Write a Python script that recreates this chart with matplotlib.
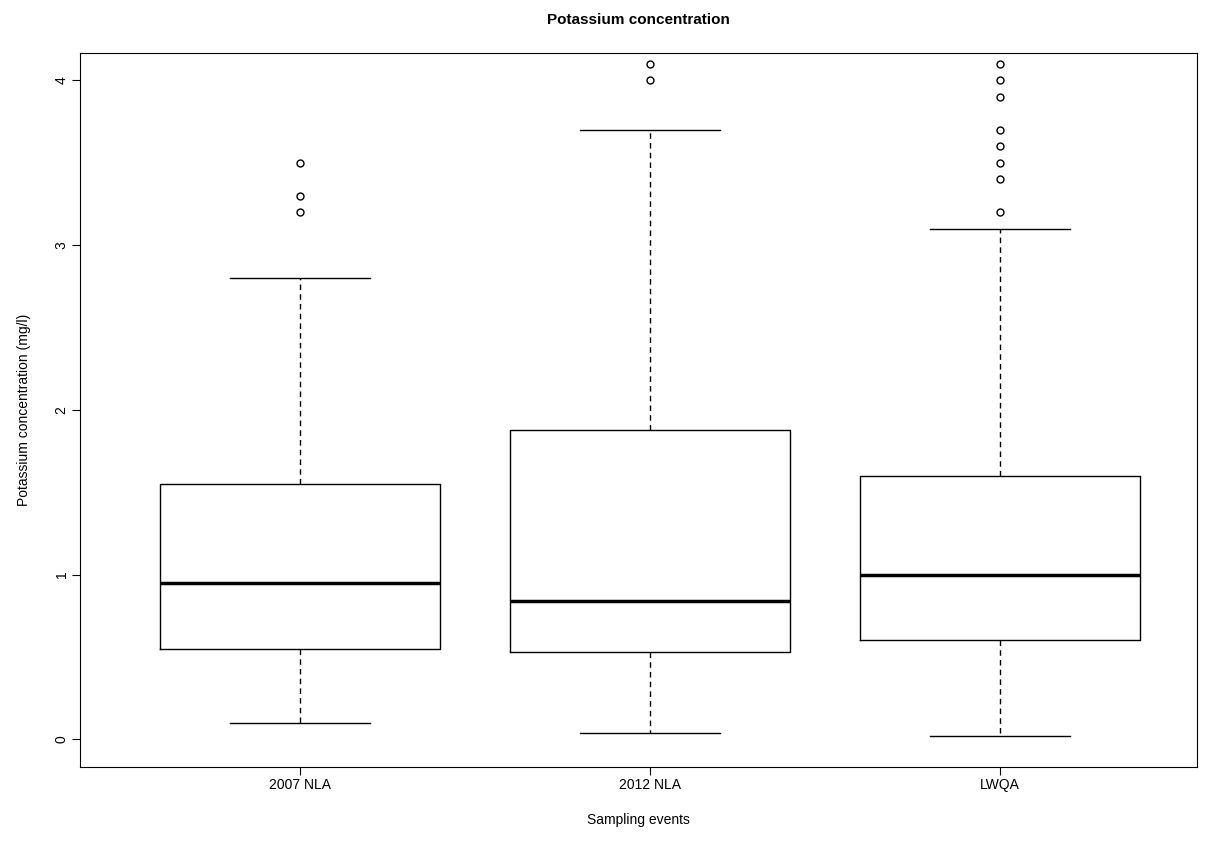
import matplotlib
matplotlib.use("Agg")
import matplotlib.pyplot as plt

plt.rcParams['font.family'] = ['Liberation Sans', 'DejaVu Sans']

groups = ['2007 NLA', '2012 NLA', 'LWQA']
q1 = [0.55, 0.53, 0.60]
med = [0.95, 0.84, 1.00]
q3 = [1.55, 1.88, 1.60]
wlo = [0.10, 0.04, 0.02]
whi = [2.80, 3.70, 3.10]
fliers = [[3.2, 3.3, 3.5],
          [4.0, 4.1],
          [3.2, 3.4, 3.5, 3.6, 3.7, 3.9, 4.0, 4.1]]

stats = [dict(label=g, q1=a, med=m, q3=b, whislo=lo, whishi=hi, fliers=f)
         for g, a, m, b, lo, hi, f in zip(groups, q1, med, q3, wlo, whi, fliers)]

fig = plt.figure(figsize=(12.07, 8.46), dpi=100)
ax = fig.add_axes([0.066, 0.093, 0.926, 0.844])
ax.bxp(stats, positions=[1, 2, 3], widths=0.8, patch_artist=False,
       boxprops=dict(color='black', linewidth=1),
       medianprops=dict(color='black', linewidth=2.5),
       whiskerprops=dict(color='black', linewidth=1, linestyle=(0, (4, 3))),
       capprops=dict(color='black', linewidth=1),
       capwidths=0.4,
       flierprops=dict(marker='o', markerfacecolor='none', markeredgecolor='black',
                       markersize=5, linestyle='none'))
ax.set_xlim(0.371, 3.563)
ax.set_ylim(-0.17, 4.164)
ax.set_yticks([0, 1, 2, 3, 4])
ax.set_yticklabels(['0', '1', '2', '3', '4'], rotation=90, va='center')
ax.tick_params(labelsize=10, length=6, pad=2)
ax.set_title('Potassium concentration', fontsize=11, fontweight='bold', pad=21)
ax.set_xlabel('Sampling events', fontsize=10, labelpad=15)
ax.set_ylabel('Potassium concentration (mg/l)', fontsize=10, labelpad=17)
fig.savefig('out.png', dpi=100)
